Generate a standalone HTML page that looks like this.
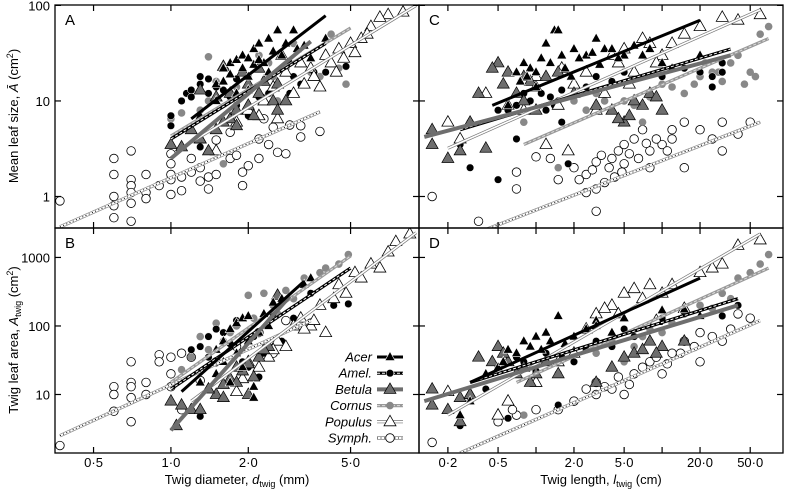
<!DOCTYPE html>
<html><head><meta charset="utf-8"><style>
html,body{margin:0;padding:0;background:#fff;}
svg{display:block;font-family:"Liberation Sans",sans-serif;}
</style></head><body>
<svg id="chart" width="785" height="494" viewBox="0 0 785 494" xmlns="http://www.w3.org/2000/svg">
<g id="marks"></g>
<g id="frame"></g>
<text transform="translate(18,116) rotate(-90)" text-anchor="middle" font-size="13">Mean leaf size, <tspan font-style="italic">Ā</tspan> (cm<tspan font-size="9" dy="-5">2</tspan><tspan dy="5">)</tspan></text>
<text transform="translate(18,340) rotate(-90)" text-anchor="middle" font-size="13">Twig leaf area, <tspan font-style="italic">A</tspan><tspan font-size="9" dy="3">twig</tspan><tspan dy="-3"> (cm</tspan><tspan font-size="9" dy="-5">2</tspan><tspan dy="5">)</tspan></text>
<text x="237" y="484" text-anchor="middle" font-size="13">Twig diameter, <tspan font-style="italic">d</tspan><tspan font-size="9" dy="3">twig</tspan><tspan dy="-3"> (mm)</tspan></text>
<text x="601" y="484" text-anchor="middle" font-size="13">Twig length, <tspan font-style="italic">l</tspan><tspan font-size="9" dy="3">twig</tspan><tspan dy="-3"> (cm)</tspan></text>
</svg>
<script>
// ---- data: [x, y] pairs per species per panel ----
const speciesNames = ["Acer","Amel.","Betula","Cornus","Populus","Symph."];
const xTicksLeft = [0.5,1,2,5];
const xTickLabelsLeft = ["0·5","1·0","2·0","5·0"];
const xTicksRight = [0.2,0.5,1,2,5,10,20,50];
const xTickLabelsRight = ["0·2","0·5","","2·0","5·0","","20·0","50·0"];
const yTicksTop = [1,10,100];
const yTicksBottom = [10,100,1000];

const A_acer=[[1.3,7],[1.5,15],[1.6,22],[1.7,25],[1.8,27],[1.9,30],[2.0,28],[2.1,35],[2.2,40],[2.4,45],[2.6,55],[3.0,55],[2.8,40],[3.3,38],[4.0,45],[2.0,18],[1.8,12],[2.3,25],[1.6,16],[1.7,19],[1.9,22],[2.1,24],[2.2,27],[2.5,33],[2.7,30],[3.1,35],[2.4,20],[2.0,13],[1.5,10],[2.9,26],[3.5,28]];
const A_amel=[[1.0,5.5],[1.0,7],[1.1,10],[1.15,12],[1.2,13],[1.3,15],[1.3,18],[1.4,17],[1.6,13],[1.8,17],[2.0,7],[2.4,12],[3.2,15],[4.0,20],[4.8,23],[1.3,3.3],[1.8,9],[1.2,11],[1.4,12],[1.5,14],[2.2,11],[2.6,14],[3.0,18],[3.6,20],[1.7,11],[2.9,12]];
const A_betula=[[1.0,3.5],[1.1,3.3],[1.3,4],[1.4,3],[1.5,5],[1.6,6],[1.7,6.5],[1.8,8],[2.0,9],[2.2,12],[2.5,10],[2.6,8],[1.3,13],[1.5,11],[2.0,15],[2.2,22],[1.6,23],[1.9,20],[2.3,16],[2.6,15],[1.7,12],[2.1,7],[2.8,10],[1.2,5],[1.8,5.5]];
const A_cornus=[[1.0,6.5],[1.1,7.5],[1.3,8],[1.4,29],[1.5,16],[1.8,14],[2.2,30],[2.6,10],[3.3,15],[3.8,18],[4.2,50],[4.8,15],[4.5,22],[3.5,20],[1.6,2.2],[1.2,11],[1.4,10],[1.7,12],[2.0,18],[2.4,25],[2.8,22],[3.0,40],[2.5,18]];
const A_populus=[[1.3,4],[1.5,3],[1.8,6],[2.0,8],[2.3,10],[2.5,14],[2.8,20],[3.0,12],[3.5,22],[4.0,30],[4.5,35],[5.0,40],[5.5,45],[6,60],[7,80],[8,85],[6.5,75],[2.7,30],[3.2,25],[3.3,15],[3.8,14],[4.2,25],[4.7,28],[5.2,32],[2.2,7],[2.6,6.5],[3.6,18],[4.4,20],[5.8,50]];
const A_symph=[[0.37,0.9],[0.6,2.5],[0.6,1.7],[0.6,1.0],[0.6,0.8],[0.6,0.6],[0.7,3],[0.7,1.5],[0.7,1.3],[0.7,1.1],[0.7,0.85],[0.7,0.55],[0.8,1.7],[0.8,1.1],[0.8,0.95],[0.9,1.3],[1.0,1.05],[1.0,1.5],[1.0,2.2],[1.0,2.8],[1.0,1.7],[1.1,1.15],[1.1,1.6],[1.2,2.5],[1.2,1.8],[1.3,1.45],[1.3,2.0],[1.4,1.2],[1.4,1.6],[1.5,1.7],[1.7,2.5],[1.7,4.7],[1.8,2.7],[1.9,1.3],[1.9,1.8],[2.0,2.1],[2.2,2.5],[2.2,4.0],[2.4,3.5],[2.5,5.3],[2.6,2.9],[2.8,2.8],[2.9,5.6],[3.2,4.2],[3.2,5.5],[3.8,4.8],[1.5,3.9],[2.3,6.5]];
const A_fits=[[[1.2,6.5],[4.0,78]],[[1.0,4.0],[4.0,40]],[[1.0,2.5],[3.5,42]],[[1.0,4.3],[5.0,58]],[[1.2,3.7],[9,100]],[[0.37,0.48],[3.8,7.7]]];

const B_acer=[[1.3,15],[1.5,20],[1.6,30],[1.7,15],[1.8,110],[1.9,130],[2.0,140],[2.1,13],[2.1,9],[2.3,150],[2.5,220],[2.7,250],[3.3,400],[3.5,500],[1.7,90],[1.6,60],[1.8,40],[2.0,60],[2.2,80],[1.9,25],[2.4,100],[1.5,45]];
const B_amel=[[1.2,45],[1.3,50],[1.3,4.8],[1.4,70],[1.5,90],[1.6,80],[1.8,120],[2.0,25],[2.2,18],[2.7,60],[3.5,300],[4.3,200],[4.9,210],[2.5,150],[1.9,30],[1.4,35],[1.7,55],[2.1,70],[2.3,40],[3.0,130]];
const B_betula=[[1.0,8],[1.05,3.5],[1.1,7],[1.2,6],[1.3,6],[1.5,10],[1.6,9],[1.7,17],[1.8,15],[1.9,22],[2.0,28],[2.2,35],[2.4,50],[2.6,280],[2.0,10],[1.4,12],[1.8,25],[2.3,45],[2.1,18],[1.6,14]];
const B_cornus=[[1.1,23],[1.2,35],[1.3,70],[1.5,110],[1.6,60],[2.0,280],[2.3,300],[2.8,330],[3.3,500],[3.8,600],[4.5,800],[4.9,1100],[1.8,100],[2.5,200],[4.0,700],[1.4,45],[1.7,80],[2.1,130],[2.6,150],[3.0,250]];
const B_populus=[[1.8,11],[1.9,17],[2.2,25],[2.4,35],[2.6,60],[2.8,50],[3.0,100],[3.2,130],[3.5,100],[3.8,200],[4.0,80],[4.3,250],[4.8,300],[5.2,600],[5.5,500],[6,800],[6.5,700],[7,1200],[7.5,1700],[8.5,2200],[2.0,30],[2.5,45],[3.3,90],[3.6,120],[4.5,400]];
const B_symph=[[0.37,1.8],[0.6,13],[0.6,10],[0.6,5.7],[0.7,30],[0.7,15],[0.7,13],[0.7,9],[0.7,4],[0.8,15],[0.8,10],[0.9,38],[0.9,30],[1.0,35],[1.0,20],[1.0,13],[1.1,40],[1.1,6],[1.2,35],[1.3,16],[1.5,30],[1.8,50],[2.2,80],[2.5,40],[2.8,120],[3.5,110]];
const B_fits=[[[1.1,11],[3.3,450]],[[1.0,12],[5,700]],[[1.0,3],[2.9,270]],[[1.0,15],[5,1050]],[[1.2,8],[9,2300]],[[0.37,2.5],[3.5,120]]];

const C_acer=[[0.6,9],[0.7,20],[0.8,25],[0.9,22],[1.0,20],[1.2,40],[1.4,55],[1.5,55],[1.6,30],[2.0,35],[2.5,30],[3,45],[3.5,35],[4,35],[5,30],[8,35],[10,25],[20,30],[0.75,16],[0.85,18],[1.1,28],[1.3,25],[1.7,22],[2.2,28],[2.8,32],[3.2,24],[4.5,28],[6,38],[7,30],[12,22],[1.0,14],[1.9,18]];
const C_amel=[[0.3,6],[0.25,3.5],[0.3,2],[0.5,1.5],[0.7,4],[0.8,12],[1.0,14],[1.2,8],[1.5,10],[1.8,3],[2,15],[3,18],[5,20],[10,18],[20,20],[30,25],[25,14],[1.8,2.2],[1.6,6],[0.6,8],[0.7,9],[0.9,10],[1.1,12],[1.3,11],[1.6,13],[1.4,9],[2.5,14],[4,16],[15,22],[25,18],[30,20],[0.5,8]];
const C_betula=[[0.15,3.5],[0.15,5],[0.2,2.5],[0.25,3],[0.3,6],[0.35,12],[0.5,25],[0.6,20],[0.8,18],[1,14],[1.5,20],[2,12],[3,9],[4,8],[5,6],[7,9],[8,12],[10,8],[0.45,22],[0.55,15],[0.7,12],[0.9,16],[1.2,18],[0.6,9],[0.8,10],[1.0,8],[4.5,6.5],[5.5,7],[6,10],[9,11],[0.4,3.2]];
const C_cornus=[[0.8,6],[1.0,8],[1.5,2],[2,10],[3,12],[4,15],[5,10],[7,6],[10,15],[15,12],[20,18],[25,20],[30,16],[40,30],[50,20],[60,50],[70,60],[35,25],[2.5,8],[6,9],[8,11],[12,14],[18,15],[22,25],[28,20],[45,15],[55,18],[3.5,10]];
const C_populus=[[0.2,6],[0.25,4],[0.4,12],[0.8,8],[1,18],[1.2,3.5],[1.5,9],[2,15],[3,8],[4,30],[5,35],[6,20],[8,40],[10,30],[15,50],[20,60],[30,75],[40,70],[60,80],[1.6,22],[2.5,20],[3.5,12],[4.5,25],[5.5,15],[7,45],[9,25],[12,40],[1.8,3]];
const C_symph=[[0.15,1],[0.35,0.55],[0.7,1.8],[0.7,1.2],[1.0,2.6],[1.3,2.5],[1.5,1.5],[2,2],[2.5,1.7],[3,2.3],[3,1.2],[3.5,1.4],[4,2.5],[4.5,3],[5,3.5],[5,2.2],[6,4],[7,5],[8,3],[10,3.5],[12,4],[15,6],[15,2],[20,5],[25,4],[30,6],[30,3],[40,4.5],[50,6],[3,0.7],[8,2],[12,5],[2.2,1.5],[2.8,1.9],[3.8,2.0],[4.2,1.6],[5.5,2.8],[6.5,2.5],[7.5,3.6],[9,4],[11,3],[3.3,2.7],[4.8,1.8],[2.5,1.1]];
const C_fits=[[[0.45,9],[20,70]],[[0.25,5],[35,35]],[[0.13,4.2],[35,30]],[[0.8,3.5],[70,45]],[[0.2,3.2],[60,90]],[[0.4,0.45],[60,6]]];

const D_acer=[[0.25,5],[0.3,8],[0.4,20],[0.5,25],[0.6,45],[0.8,60],[1.0,70],[1.2,80],[1.5,140],[2,70],[3,120],[5,130],[10,170],[15,175],[20,140],[3,100],[0.7,40],[0.9,50],[1.1,45],[1.3,60],[1.7,55],[2.5,90],[4,80],[0.55,30]];
const D_amel=[[0.25,3.5],[0.3,8],[0.4,12],[0.5,25],[0.7,35],[1.0,22],[1.5,7],[2,30],[3,60],[5,90],[8,60],[10,130],[15,160],[30,140],[40,200],[0.6,4.5],[0.8,30],[1.2,40],[1.6,35],[2.5,45],[4,50],[6,70]];
const D_betula=[[0.15,12],[0.15,7],[0.2,6],[0.25,9],[0.25,4],[0.3,10],[0.35,35],[0.5,50],[0.6,30],[0.8,25],[1,20],[1.5,20],[3,15],[4,25],[6,40],[8,60],[10,50],[15,60],[0.45,30],[0.55,40],[0.7,20],[0.9,15],[1.2,30],[5,35],[7,45],[9,40]];
const D_cornus=[[0.8,5],[1.5,20],[2,30],[3,40],[4,60],[5,30],[7,70],[10,80],[15,150],[20,200],[30,300],[40,500],[50,600],[60,800],[70,1100],[6,50],[8,90],[12,110],[25,180],[35,250]];
const D_populus=[[0.2,11],[0.3,10],[0.5,5],[0.6,8],[1,15],[2,40],[3,150],[4,200],[5,300],[6,350],[8,400],[10,300],[12,400],[20,600],[25,700],[30,800],[40,1500],[60,1800],[2.5,90],[3.5,180],[4.5,150],[7,250],[9,120],[15,180],[1.5,30]];
const D_symph=[[0.15,2],[0.5,4],[0.7,5],[1,6],[1.5,6],[2,8],[3,10],[3,15],[4,12],[5,10],[6,20],[8,30],[10,20],[12,40],[15,60],[20,30],[20,80],[30,60],[40,150],[50,130],[2.5,12],[3.5,13],[4.5,18],[5.5,14],[7,25],[9,35],[11,28],[14,40],[18,50],[25,70],[35,90],[0.65,6]];
const D_fits=[[[0.3,15],[20,500]],[[0.3,15],[40,250]],[[0.13,8],[40,200]],[[0.7,15],[70,700]],[[0.2,5],[60,2200]],[[0.25,1.4],[60,120]]];

const NS="http://www.w3.org/2000/svg";
function mk(tag,attrs,parent){const e=document.createElementNS(NS,tag);for(const k in attrs)e.setAttribute(k,attrs[k]);parent.appendChild(e);return e;}
function logScale(d0,d1,r0,r1){const a=Math.log10(d0),b=Math.log10(d1);return v=>r0+(Math.log10(v)-a)/(b-a)*(r1-r0);}

const xL=logScale(0.354,9.23,55,419), xR=logScale(0.118,91,419,783);
const yT=logScale(0.468,101,228,5), yB=logScale(1.40,2690,453,228);

const marks=document.getElementById('marks');
const frame=document.getElementById('frame');

function marker(g,sp,px,py){
  let e;
  if(sp===0){e=mk('polygon',{points:`${px},${py-5.5} ${px-5},${py+3.5} ${px+5},${py+3.5}`,fill:'#000',stroke:'#fff','stroke-width':0.6},g);}
  else if(sp===1){e=mk('circle',{cx:px,cy:py,r:3.8,fill:'#000',stroke:'#fff','stroke-width':0.5},g);}
  else if(sp===2){e=mk('polygon',{points:`${px},${py-6.5} ${px-6},${py+4} ${px+6},${py+4}`,fill:'#6e6e6e',stroke:'#000','stroke-width':0.7},g);}
  else if(sp===3){e=mk('circle',{cx:px,cy:py,r:3.8,fill:'#888',stroke:'none'},g);}
  else if(sp===4){e=mk('polygon',{points:`${px},${py-6.5} ${px-6},${py+4} ${px+6},${py+4}`,fill:'#fff',stroke:'#000','stroke-width':0.8},g);}
  else {e=mk('circle',{cx:px,cy:py,r:4.3,fill:'#fff',stroke:'#000','stroke-width':0.8},g);}
  return e;
}
function fitLine(g,sp,x1,y1,x2,y2){
  const c={x1,y1,x2,y2};
  if(sp===0){mk('line',{...c,stroke:'#000','stroke-width':3},g);}
  else if(sp===1){mk('line',{...c,stroke:'#000','stroke-width':3.2},g);mk('line',{...c,stroke:'#fff','stroke-width':1,'stroke-dasharray':'3 2'},g);}
  else if(sp===2){mk('line',{...c,stroke:'#6e6e6e','stroke-width':4},g);}
  else if(sp===3){mk('line',{...c,stroke:'#999','stroke-width':3.2},g);mk('line',{...c,stroke:'#ddd','stroke-width':1,'stroke-dasharray':'3 2'},g);}
  else if(sp===4){mk('line',{...c,stroke:'#777','stroke-width':3},g);mk('line',{...c,stroke:'#fff','stroke-width':1.6},g);}
  else {mk('line',{...c,stroke:'#888','stroke-width':3.4},g);mk('line',{...c,stroke:'#fff','stroke-width':2},g);mk('line',{...c,stroke:'#000','stroke-width':1,'stroke-dasharray':'1 2.5'},g);}
}

const panels=[
 {id:'a',sx:xL,sy:yT,pts:[A_acer,A_amel,A_betula,A_cornus,A_populus,A_symph],fits:A_fits,box:[55,5,419,228]},
 {id:'b',sx:xL,sy:yB,pts:[B_acer,B_amel,B_betula,B_cornus,B_populus,B_symph],fits:B_fits,box:[55,228,419,453]},
 {id:'c',sx:xR,sy:yT,pts:[C_acer,C_amel,C_betula,C_cornus,C_populus,C_symph],fits:C_fits,box:[419,5,783,228]},
 {id:'d',sx:xR,sy:yB,pts:[D_acer,D_amel,D_betula,D_cornus,D_populus,D_symph],fits:D_fits,box:[419,228,783,453]}
];
const order=[5,3,1,4,2,0];
panels.forEach(p=>{
  const g=mk('g',{'clip-path':`url(#clip-${p.id})`},marks);
  
  
  const cp=mk('clipPath',{id:'clip-'+p.id},marks);
  mk('rect',{x:p.box[0],y:p.box[1],width:p.box[2]-p.box[0],height:p.box[3]-p.box[1]},cp);
  order.forEach(sp=>{
    p.pts[sp].forEach(([x,y])=>{
      const m=marker(g,sp,p.sx(x),p.sy(y));
      
      
    });
  });
  [5,3,4,1,2,0].forEach(sp=>{
    const f=p.fits[sp];
    const lg=mk('g',{},g);
    
    
    fitLine(lg,sp,p.sx(f[0][0]),p.sy(f[0][1]),p.sx(f[1][0]),p.sy(f[1][1]));
  });
});

panels.forEach(p=>{
  const [x0,y0,x1,y1]=p.box;
  const r=mk('rect',{x:x0,y:y0,width:x1-x0,height:y1-y0,fill:'none',stroke:'#000','stroke-width':1.3},frame);
  
  
  const xt=(p.sx===xL)?xTicksLeft:xTicksRight;
  xt.forEach(v=>{const X=p.sx(v);mk('line',{x1:X,x2:X,y1:y0,y2:y0+6,stroke:'#000','stroke-width':1.2},frame);mk('line',{x1:X,x2:X,y1:y1,y2:y1-6,stroke:'#000','stroke-width':1.2},frame);});
  const yt=(p.sy===yT)?yTicksTop:yTicksBottom;
  yt.forEach(v=>{const Y=p.sy(v);mk('line',{x1:x0,x2:x0+6,y1:Y,y2:Y,stroke:'#000','stroke-width':1.2},frame);mk('line',{x1:x1,x2:x1-6,y1:Y,y2:Y,stroke:'#000','stroke-width':1.2},frame);});
  const t=mk('text',{x:x0+10,y:y0+20,'font-size':15},frame);t.textContent=p.id.toUpperCase();
  
  
});
yTicksTop.forEach(v=>{const t=mk('text',{x:50,y:yT(v)+5,'text-anchor':'end','font-size':13},frame);t.textContent=String(v);
  
  });
yTicksBottom.forEach(v=>{const t=mk('text',{x:50,y:yB(v)+5,'text-anchor':'end','font-size':13},frame);t.textContent=String(v);
  
  });
xTicksLeft.forEach((v,i)=>{const t=mk('text',{x:xL(v),y:467,'text-anchor':'middle','font-size':13},frame);t.textContent=xTickLabelsLeft[i];
  
  });
xTicksRight.forEach((v,i)=>{if(!xTickLabelsRight[i])return;const t=mk('text',{x:xR(v),y:467,'text-anchor':'middle','font-size':13},frame);t.textContent=xTickLabelsRight[i];
  
  });

const leg=mk('g',{},frame);


speciesNames.forEach((n,i)=>{
  const y=357+i*16.2;
  const e=mk('g',{},leg);
  
  
  const t=mk('text',{x:372,y:y+4.5,'text-anchor':'end','font-size':13,'font-style':'italic'},e);t.textContent=n;
  fitLine(e,i,377,y,403,y);
  marker(e,i,390,y);
});
</script>
</body></html>
